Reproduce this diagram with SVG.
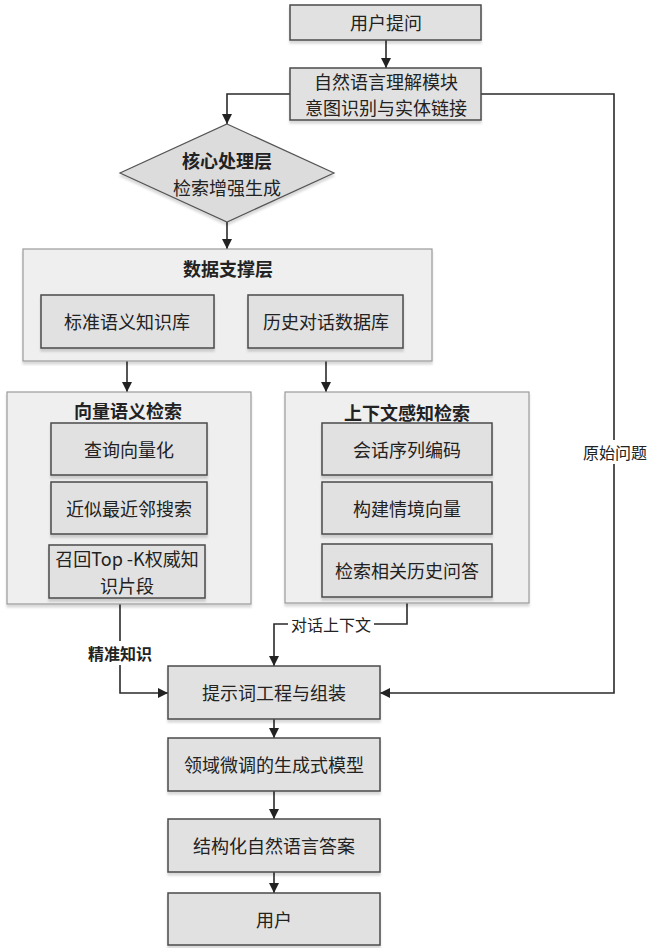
<svg xmlns="http://www.w3.org/2000/svg" width="651" height="948" viewBox="0 0 651 948">
<style>
.box{fill:#e1e1e1;stroke:#4a4a4a;stroke-width:1.5}
.outer{fill:#efefef;stroke:#9a9a9a;stroke-width:1.2}
.t{font-family:"Noto Sans CJK SC","Liberation Sans",sans-serif;font-size:18px;fill:#222;text-anchor:middle;dominant-baseline:central}
.b{font-weight:bold}
.lbl{font-family:"Noto Sans CJK SC","Liberation Sans",sans-serif;font-size:16px;fill:#222;text-anchor:middle;dominant-baseline:central}
.ln{fill:none;stroke:#2a2a2a;stroke-width:1.6}
.bg{fill:#ffffff}
</style>
<defs>
<marker id="arr" viewBox="0 0 10 10" refX="10" refY="5" markerWidth="10" markerHeight="10" markerUnits="userSpaceOnUse" orient="auto">
<path d="M0,0 L10,5 L0,10 z" fill="#222"/>
</marker>
<filter id="sh" x="-5%" y="-5%" width="110%" height="120%">
<feDropShadow dx="0" dy="3" stdDeviation="1" flood-color="#000" flood-opacity="0.15"/>
</filter>
</defs>
<rect width="651" height="948" fill="#ffffff"/>

<g id="connectors">
<line class="ln" x1="386" y1="40" x2="386" y2="68" marker-end="url(#arr)"/>
<polyline class="ln" points="290,94 227,94 227,124" marker-end="url(#arr)"/>
<polyline class="ln" points="481,94 614,94 614,693 380,693" marker-end="url(#arr)"/>
<line class="ln" x1="227" y1="222" x2="227" y2="249" marker-end="url(#arr)"/>
<line class="ln" x1="127" y1="348" x2="127" y2="392" marker-end="url(#arr)"/>
<line class="ln" x1="326" y1="348" x2="326" y2="392" marker-end="url(#arr)"/>
<polyline class="ln" points="120,604 120,693 168,693" marker-end="url(#arr)"/>
<polyline class="ln" points="407,603 407,624 274,624 274,666" marker-end="url(#arr)"/>
<line class="ln" x1="274" y1="719" x2="274" y2="738" marker-end="url(#arr)"/>
<line class="ln" x1="274" y1="791" x2="274" y2="819" marker-end="url(#arr)"/>
<line class="ln" x1="274" y1="872" x2="274" y2="893" marker-end="url(#arr)"/>
<rect class="bg" x="84" y="641" width="72" height="24"/>
<text class="lbl b" x="120" y="653">精准知识</text>
<rect class="bg" x="288" y="613" width="86" height="22"/>
<text class="lbl" x="331" y="624">对话上下文</text>
<rect class="bg" x="581" y="440" width="68" height="24"/>
<text class="lbl" x="615" y="452">原始问题</text>
</g>

<g id="user-question">
<rect class="box" x="290" y="5" width="191" height="35" filter="url(#sh)"/>
<text class="t" x="386" y="22">用户提问</text>
</g>

<g id="nlu">
<rect class="box" x="290" y="68" width="191" height="52" filter="url(#sh)"/>
<text class="t" x="386" y="81">自然语言理解模块</text>
<text class="t" x="386" y="107">意图识别与实体链接</text>
</g>

<g id="core">
<polygon points="227,124 334,173 227,222 120,173" fill="#dcdcdc" stroke="#555" stroke-width="1.2" filter="url(#sh)"/>
<text class="t b" x="227" y="160">核心处理层</text>
<text class="t" x="227" y="187">检索增强生成</text>
</g>

<g id="data-layer">
<rect class="outer" x="23" y="249" width="409" height="112" filter="url(#sh)"/>
<text class="t b" x="228" y="268">数据支撑层</text>
</g>

<g id="kb">
<rect class="box" x="41" y="295" width="173" height="53" filter="url(#sh)"/>
<text class="t" x="127" y="321">标准语义知识库</text>
</g>

<g id="history-db">
<rect class="box" x="248" y="295" width="155" height="53" filter="url(#sh)"/>
<text class="t" x="326" y="321">历史对话数据库</text>
</g>

<g id="vector-retrieval">
<rect class="outer" x="7" y="392" width="244" height="212" filter="url(#sh)"/>
<text class="t b" x="128" y="410">向量语义检索</text>
</g>

<g id="query-vec">
<rect class="box" x="51" y="423" width="156" height="52" filter="url(#sh)"/>
<text class="t" x="129" y="449">查询向量化</text>
</g>

<g id="ann">
<rect class="box" x="51" y="482" width="156" height="52" filter="url(#sh)"/>
<text class="t" x="129" y="508">近似最近邻搜索</text>
</g>

<g id="topk">
<rect class="box" x="49" y="545" width="156" height="53" filter="url(#sh)"/>
<text class="t" x="127" y="558">召回Top -K权威知</text>
<text class="t" x="127" y="585">识片段</text>
</g>

<g id="context-retrieval">
<rect class="outer" x="285" y="392" width="244" height="211" filter="url(#sh)"/>
<text class="t b" x="407" y="412">上下文感知检索</text>
</g>

<g id="session-enc">
<rect class="box" x="322" y="423" width="170" height="52" filter="url(#sh)"/>
<text class="t" x="407" y="449">会话序列编码</text>
</g>

<g id="context-vec">
<rect class="box" x="322" y="482" width="170" height="52" filter="url(#sh)"/>
<text class="t" x="407" y="508">构建情境向量</text>
</g>

<g id="history-qa">
<rect class="box" x="322" y="544" width="170" height="53" filter="url(#sh)"/>
<text class="t" x="407" y="570">检索相关历史问答</text>
</g>

<g id="prompt">
<rect class="box" x="168" y="666" width="212" height="53" filter="url(#sh)"/>
<text class="t" x="274" y="692">提示词工程与组装</text>
</g>

<g id="model">
<rect class="box" x="168" y="738" width="212" height="53" filter="url(#sh)"/>
<text class="t" x="274" y="764">领域微调的生成式模型</text>
</g>

<g id="answer">
<rect class="box" x="168" y="819" width="212" height="53" filter="url(#sh)"/>
<text class="t" x="274" y="845">结构化自然语言答案</text>
</g>

<g id="user">
<rect class="box" x="168" y="893" width="212" height="52" filter="url(#sh)"/>
<text class="t" x="274" y="919">用户</text>
</g>
</svg>
